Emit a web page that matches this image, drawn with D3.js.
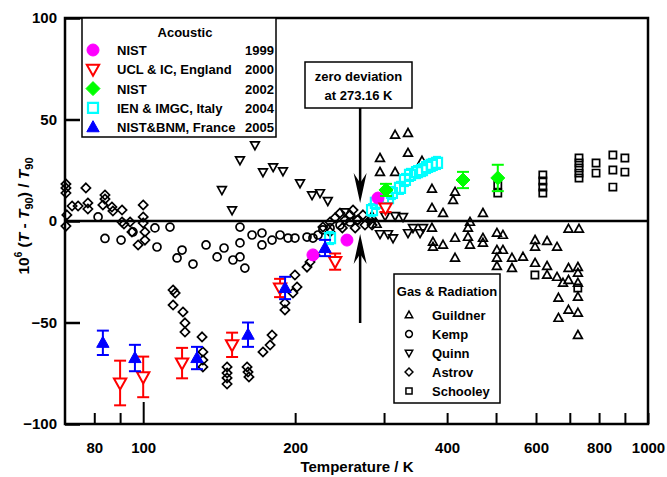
<!DOCTYPE html>
<html><head><meta charset="utf-8">
<script src="https://cdn.jsdelivr.net/npm/d3@7"></script>
<style>
body{margin:0;background:#fff}
svg{display:block;font-family:"Liberation Sans",Arial,sans-serif;font-weight:bold}
</style>
</head><body>
<svg id="c" width="667" height="477"></svg>
<script>
// ---------- data ----------
const xTickValues = [80, 90, 100, 200, 300, 400, 500, 600, 700, 800, 900, 1000];
const xTickLabels = [80, 100, 200, 400, 600, 800, 1000];
const yTickValues = [-100, -50, 0, 50, 100];

// Gas & Radiation thermometry: [T / K, 1e6 (T - T90)/T90]
const guildner = [[315.5,42.4],[334.6,43.3],[334.6,33.5],[294.5,31.0],[294.5,24.1],[315.5,24.1],[356.7,29.6],
 [373.3,15.8],[414.7,14.3],[411,10.3],[392.6,3.9],[471,3.9],[373.3,6.4],[373.3,-3.4],[375,-10.3],[375,-12.8],
 [392.6,-11.8],[414.7,-8.4],[414.7,-18.2],[439.9,-7.9],[444,-11.8],[444,-0.5],[439.9,-3.4],[471,-8.4],[471,-10.8],
 [502,-5.9],[516,-6.9],[502,-14.3],[516,-14.3],[502,-18.2],[502,-22.2],[537.7,-18.2],[537.7,-23.2],[565.4,-17.7],
 [597.4,-9.4],[597.4,-12.8],[631,-9.9],[660.4,-12.8],[597.4,-20.7],[631,-22.2],[631,-26.6],[660.4,-27.6],
 [678.6,-30.5],[695.8,-23.2],[726.4,-22.7],[695.8,-29.1],[726.4,-25.6],[726.4,-30.5],[726.4,-37.4],[664.7,-37.9],
 [695.8,-43.8],[726.4,-45.3],[664.7,-47.8],[726.4,-56.2],[695.8,-3.9],[730,-3.9],[284,2.5],[290,-1.5]];

const kemp = [[81.4,2.0],[84.0,-8.6],[90.4,-9.4],[95.4,-5.4],[105.5,-3.4],[106.5,-12.8],[113,-3.0],[116.7,-18.2],
 [119.4,-14.3],[125.5,-21.2],[133.2,-11.8],[140.1,-17.7],[144.6,-13.3],[150.6,-19.2],[155.5,-17.7],[155.5,-10.8],
 [159,-23.2],[155.5,-3.0],[164.3,-6.9],[171.9,-5.9],[171.9,-11.8],[180,-9.4],[186.7,-6.9],[193.6,-8.4],[199.8,-8.4],
 [211.1,-7.9],[216.9,-8.4],[222,-6.9],[227,-4.4],[234.5,-3.4],[245.4,-2.0],[256.9,-0.5],[265,0.5]];

const quinn = [[143.2,15.3],[150,5.4],[155.5,30.0],[166.5,37.4],[172.7,24.1],[180.9,26.6],[189.2,24.6],[204.5,18.7],
 [216,12.8],[224,13.8],[232.1,9.9],[251,4.4],[294.5,-6.4],[305.5,-6.4],[312.6,-8.4],[301.4,2.5],[315.5,2.5],
 [327.1,2.0],[334.6,-5.9],[342.3,-3.4],[353.5,-5.9],[358.4,-3.4]];

const astrov = [[70.3,18.2],[70.3,16.3],[70.3,13.8],[70.6,3.0],[70.3,-2.5],[77.0,16.3],[72.3,7.4],[74.3,7.4],
 [77.7,8.9],[77.7,5.9],[84,12.8],[84,10.8],[83.2,7.9],[86.7,6.9],[87.1,4.9],[90.8,5.4],[90.8,-0.5],[91.6,-1.5],
 [94.2,-0.5],[95,-5.4],[100,7.9],[100,2.0],[100,-1.0],[100.8,-5.4],[100.8,-9.4],[97.7,-11.8],
 [114.6,-34],[115.7,-35.5],[114.6,-41.4],[119.9,-44.8],[121,-50.2],[121,-54.7],[130.8,-57.1],[131.3,-64.5],
 [131.3,-68.5],[131.3,-71.9],[146.6,-71.9],[146.6,-74.9],[146.6,-77.3],[146.6,-80.3],[160.6,-71.9],[161.3,-74.4],
 [162,-76.8],[172.7,-64.5],[178.4,-61.1],[180,-56.2],[190.9,-40.4],[190.9,-43.8],[198,-35.5],[201.7,-32.5],
 [199.8,-26.6],[211.1,-22.7],[214,-20.2],[218.9,-16.7],[227,-3],[234.5,-0.5],[239.8,1.5],[245.4,3.9],[251,0.5],
 [256.9,3.0],[260.4,5.4],[266,0.5],[272.5,3.0],[275,-2],[281.4,0.5],[284,-2],[248,-3.4],[263,-3.4],[234.5,-5.4]];

const schooley = [[504,17.7],[504,13.8],[619,22.7],[619,19.7],[619,16.7],[619,13.8],[730,31],[730,28.6],[730,26.1],
 [730,23.6],[730,21.2],[789,28.6],[789,23.6],[852,32.5],[852,25.1],[852,16.7],[900,31],[900,24.1],[597,-26.6],[726,-33]];

// Acoustic thermometry: [T / K, deviation, uncertainty]
const nist1999 = [[216.9,-16.7],[253.3,-9.4],[291.8,11.3]];
const ucl2000 = [[90,-79.8,11],[100,-76.8,10],[119.4,-70,7.5],[150,-61,6],[186.7,-33,4.5],[240,-20,4],[302,6.4,2]];
const nist2002 = [[302.7,15.3,3],[430,20.2,4],[504,21.2,6.5]];
const ien2004 = [[234.5,-8.4,3],[284,5.4,3],[289,8.9,3],[305.5,11.3,3],[311,13.8,3],[322.6,16.3,3],[330,20.2,3],
 [337.7,22.7,3],[348.7,24.1,3],[356.7,25.1,3],[365,26.6,3],[373,27.6,3],[382,28.6,3]];
const nistbnm2005 = [[83.2,-60,6],[96.3,-67.5,6.5],[127.8,-67.5,5.5],[161.3,-56,6],[191,-33,5.5],[229.2,-13.3,4]];

const acousticLegend = [
  {name:"NIST", year:"1999", key:"nist1999"},
  {name:"UCL & IC, England", year:"2000", key:"ucl2000"},
  {name:"NIST", year:"2002", key:"nist2002"},
  {name:"IEN & IMGC, Italy", year:"2004", key:"ien2004"},
  {name:"NIST&BNM, France", year:"2005", key:"nistbnm2005"}];
const gasLegend = [
  {name:"Guildner", key:"guildner"},{name:"Kemp", key:"kemp"},{name:"Quinn", key:"quinn"},
  {name:"Astrov", key:"astrov"},{name:"Schooley", key:"schooley"}];
const zeroT = 269;

// ---------- drawing ----------
const svg = d3.select("#c");
const x = d3.scaleLog().domain([70, 1000]).range([65, 648]);
const y = d3.scaleLinear().domain([-100, 100]).range([424, 18]);

const shapes = {
  triUp: s => `M0,${-s}L${s*0.95},${s*0.7}L${-s*0.95},${s*0.7}Z`,
  triDown: s => `M0,${s}L${s*0.95},${-s*0.7}L${-s*0.95},${-s*0.7}Z`,
  circle: s => `M${s},0A${s},${s} 0 1,1 ${-s},0A${s},${s} 0 1,1 ${s},0Z`,
  diamond: s => `M0,${-s}L${s},0L0,${s}L${-s},0Z`,
  square: s => `M${-s},${-s}H${s}V${s}H${-s}Z`
};
const styles = {
  guildner:{shape:"triUp", size:4.6, fill:"none", stroke:"#000", sw:1.7},
  kemp:{shape:"circle", size:4.0, fill:"none", stroke:"#000", sw:1.7},
  quinn:{shape:"triDown", size:4.6, fill:"none", stroke:"#000", sw:1.7},
  astrov:{shape:"diamond", size:4.6, fill:"none", stroke:"#000", sw:1.7},
  schooley:{shape:"square", size:3.6, fill:"none", stroke:"#000", sw:1.7},
  nist1999:{shape:"circle", size:6, fill:"#ff00ff", stroke:"#ff00ff", sw:1},
  ucl2000:{shape:"triDown", size:6.5, fill:"#fff", stroke:"#ff0000", sw:2},
  nist2002:{shape:"diamond", size:7, fill:"#00ff00", stroke:"#00ff00", sw:1},
  ien2004:{shape:"square", size:5, fill:"none", stroke:"#00ffff", sw:2.2},
  nistbnm2005:{shape:"triUp", size:6.5, fill:"#0000ff", stroke:"#0000ff", sw:1}
};
const datasets = {guildner, kemp, quinn, astrov, schooley, nist1999, ucl2000, nist2002, ien2004, nistbnm2005};

// axes
const xAxis = d3.axisBottom(x).tickValues(xTickValues).tickSize(-11).tickPadding(18)
  .tickFormat(d => xTickLabels.includes(d) ? d : "");
const gx = svg.append("g").attr("transform","translate(0,424)").call(xAxis);
gx.select(".domain").remove();
gx.selectAll(".tick line").attr("stroke","#000").attr("stroke-width",2)
  .attr("y2", d => d === 100 ? -22 : -11);
gx.selectAll(".tick text").attr("font-size",15).attr("font-weight","bold")
  .attr("font-family","Liberation Sans, Arial, sans-serif").attr("fill","#000");

const yAxis = d3.axisLeft(y).tickValues(yTickValues).tickSize(-15).tickPadding(8).tickFormat(d3.format("d"));
const gy = svg.append("g").attr("transform","translate(65,0)").call(yAxis);
gy.select(".domain").remove();
gy.selectAll(".tick line").attr("stroke","#000").attr("stroke-width",2.5);
gy.selectAll(".tick text").attr("font-size",15).attr("font-weight","bold")
  .attr("font-family","Liberation Sans, Arial, sans-serif").attr("fill","#000");

// zero line
svg.append("line").attr("x1",x(70)).attr("x2",x(1000)).attr("y1",y(0)).attr("y2",y(0))
  .attr("stroke","#000").attr("stroke-width",2.5);

// frame
svg.append("rect").attr("x",x(70)).attr("y",y(100)).attr("width",x(1000)-x(70)).attr("height",y(-100)-y(100))
  .attr("fill","none").attr("stroke","#000").attr("stroke-width",2.5);

// axis titles
svg.append("text").attr("x",357).attr("y",472).attr("text-anchor","middle").attr("font-size",15)
  .text("Temperature / K");
const yl = svg.append("text").attr("transform","translate(29,216) rotate(-90)").attr("text-anchor","middle").attr("font-size",15.5);
yl.append("tspan").text("10");
yl.append("tspan").attr("font-size",10).attr("dy",-7).text("6");
yl.append("tspan").attr("dy",7).text(" (");
yl.append("tspan").attr("font-style","italic").text("T");
yl.append("tspan").text(" - ");
yl.append("tspan").attr("font-style","italic").text("T");
yl.append("tspan").attr("font-size",11).attr("dy",4).text("90");
yl.append("tspan").attr("dy",-4).text(") / ");
yl.append("tspan").attr("font-style","italic").text("T");
yl.append("tspan").attr("font-size",11).attr("dy",4).text("90");

// scatter series (black first)
function drawSeries(key){
  const st = styles[key], data = datasets[key];
  const g = svg.append("g");
  if (data.length && data[0].length > 2) {
    const eb = g.selectAll("g.eb").data(data).join("g");
    const cap = key === "ien2004" ? 4 : 6;
    eb.append("line").attr("x1",d=>x(d[0])).attr("x2",d=>x(d[0]))
      .attr("y1",d=>y(d[1]-d[2])).attr("y2",d=>y(d[1]+d[2])).attr("stroke",st.stroke).attr("stroke-width",2);
    [-1,1].forEach(sg => eb.append("line").attr("x1",d=>x(d[0])-cap).attr("x2",d=>x(d[0])+cap)
      .attr("y1",d=>y(d[1]+sg*d[2])).attr("y2",d=>y(d[1]+sg*d[2])).attr("stroke",st.stroke).attr("stroke-width",2));
  }
  g.selectAll("path.m").data(data).join("path").attr("class","m")
    .attr("transform", d => `translate(${x(d[0])},${y(d[1])})`)
    .attr("d", shapes[st.shape](st.size))
    .attr("fill", st.fill).attr("stroke", st.stroke).attr("stroke-width", st.sw);
}
["astrov","kemp","quinn","guildner","schooley","ien2004","nist1999","ucl2000","nistbnm2005","nist2002"].forEach(drawSeries);

// acoustic legend
const lg = svg.append("g");
lg.append("rect").attr("x",82).attr("y",18).attr("width",194).attr("height",119).attr("fill","#fff")
  .attr("stroke","#000").attr("stroke-width",1.5);
lg.append("text").attr("x",185).attr("y",37).attr("text-anchor","middle").attr("font-size",13).text("Acoustic");
acousticLegend.forEach((e,i) => {
  const yy = 50 + i*19.3, st = styles[e.key];
  lg.append("path").attr("transform",`translate(93,${yy})`).attr("d",shapes[st.shape](st.size))
    .attr("fill",st.fill).attr("stroke",st.stroke).attr("stroke-width",st.sw);
  lg.append("text").attr("x",117).attr("y",yy+5).attr("font-size",13).text(e.name);
  lg.append("text").attr("x",274).attr("y",yy+5).attr("text-anchor","end").attr("font-size",13).text(e.year);
});

// gas legend
const gl = svg.append("g");
gl.append("rect").attr("x",394).attr("y",274).attr("width",106).attr("height",129).attr("fill","#fff")
  .attr("stroke","#000").attr("stroke-width",1.5);
gl.append("text").attr("x",447).attr("y",296).attr("text-anchor","middle").attr("font-size",13).text("Gas & Radiation");
gasLegend.forEach((e,i) => {
  const yy = 315 + i*19, st = styles[e.key];
  gl.append("path").attr("transform",`translate(409,${yy})`).attr("d",shapes[st.shape](st.size*0.85))
    .attr("fill","none").attr("stroke","#000").attr("stroke-width",1.5);
  gl.append("text").attr("x",432).attr("y",yy+5).attr("font-size",13).text(e.name);
});

// zero deviation annotation
const ax = x(zeroT);
svg.append("rect").attr("x",305).attr("y",62).attr("width",107).attr("height",46).attr("fill","#fff")
  .attr("stroke","#000").attr("stroke-width",1.5);
svg.append("text").attr("x",358.5).attr("y",81).attr("text-anchor","middle").attr("font-size",13).text("zero deviation");
svg.append("text").attr("x",358.5).attr("y",100).attr("text-anchor","middle").attr("font-size",13).text("at 273.16 K");
function arrow(x0, yFrom, yTip){
  const dir = yTip > yFrom ? 1 : -1;
  svg.append("line").attr("x1",x0).attr("x2",x0).attr("y1",yFrom).attr("y2",yTip - dir*12)
    .attr("stroke","#000").attr("stroke-width",2.5);
  svg.append("path").attr("d",`M${x0},${yTip}L${x0-6.5},${yTip-dir*30}L${x0},${yTip-dir*20}L${x0+6.5},${yTip-dir*30}Z`)
    .attr("fill","#000");
}
arrow(ax, 108, 203);
arrow(ax, 323, 234);
</script>
</body></html>
